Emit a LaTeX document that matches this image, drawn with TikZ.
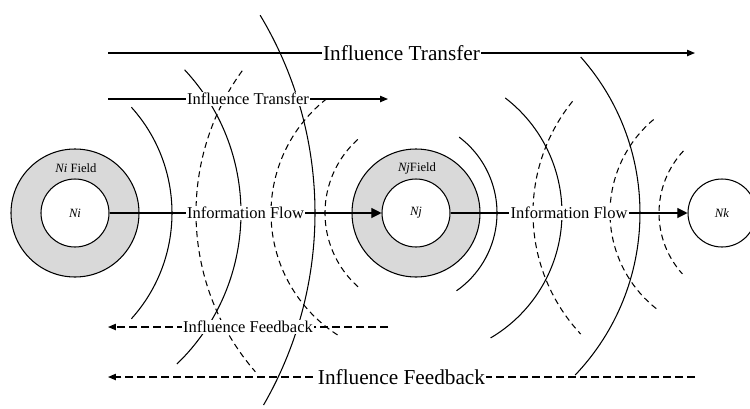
\documentclass[tikz,border=0pt]{standalone}
\usepackage{fontspec}
\setmainfont{Liberation Serif}
\usetikzlibrary{arrows.meta}

\begin{document}
\begin{tikzpicture}[line width=0.6pt]
    \tikzstyle{field}=[draw, circle, fill=gray!30, minimum size=2.56cm, inner sep=0pt];
    \tikzstyle{core}=[draw, circle, fill=white, minimum size=1.36cm, inner sep=0pt,
    font=\fontsize{7.2}{8}\selectfont\itshape];
    \tikzstyle{tag}=[inner sep=0pt, font=\fontsize{7.2}{8}\selectfont];
    \tikzstyle{lbl}=[fill=white, inner sep=0.6pt, font=\fontsize{9.4}{11}\selectfont];
    \tikzstyle{biglbl}=[fill=white, inner sep=0.6pt, font=\fontsize{12.1}{14}\selectfont];
    \tikzstyle{flow}=[-{Triangle[length=5.7pt,width=5.7pt]}];
    \tikzstyle{transfer}=[-{Triangle[length=4.5pt,width=3.6pt]}];
    \tikzstyle{feedback}=[-{Triangle[length=4.5pt,width=3.6pt]}, dash pattern=on 4.5pt off 2.3pt];
    \tikzstyle{wave}=[];
    \tikzstyle{echo}=[dash pattern=on 3.4pt off 2.3pt];

    \useasboundingbox (0,-3.9) rectangle (15,4.26);

    % fields and nodes
    \node [field] (fi) at (1.5,0) {};
    \node [field] (fj) at (8.32,0) {};
    \node [core] (Ni) at (1.5,0) {Ni};
    \node [core] (Nj) at (8.32,0) {Nj};
    \node [core] (Nk) at (14.44,0) {Nk};
    \node [tag] (ti) at (1.52,0.9) {\textit{Ni} Field};
    \node [tag] (tj) at (8.34,0.9) {\textit{Nj}Field};

    % outgoing waves (solid) : centre x / radius / start / end
    \foreach \cx/\rad/\sa/\ea in {0.28/3.16/42/-42, 0.62/4.2/43/-46, -1.38/7.68/31/-30,
        8.04/1.9/53/-55, 8.34/2.9/52.5/-59.5, 8.1/4.7/41.6/-43.6}
        \draw [wave] (\cx,0) ++(\sa:\rad) arc [start angle=\sa, end angle=\ea, radius=\rad];

    % returning waves (dashed)
    \foreach \cx/\rad/\sa/\ea in {8.76/4.84/144/221, 8.32/2.9/128/238, 8.48/1.98/132/230,
        14.21/3.55/141/223, 14.64/2.44/130/232, 15.0/1.82/137/222}
        \draw [echo] (\cx,0) ++(\sa:\rad) arc [start angle=\sa, end angle=\ea, radius=\rad];

    % end points of transfer / feedback lines
    \coordinate (ts1) at (2.16,3.2);
    \coordinate (te1) at (13.9,3.2);
    \coordinate (ts2) at (2.16,2.28);
    \coordinate (te2) at (7.76,2.28);
    \coordinate (fs1) at (7.76,-2.28);
    \coordinate (fe1) at (2.16,-2.28);
    \coordinate (fs2) at (13.9,-3.28);
    \coordinate (fe2) at (2.16,-3.28);

    \draw [transfer] (ts1) -- node [biglbl] (it1) {Influence Transfer} (te1);
    \draw [transfer] (ts2) -- node [lbl] (it2) {Influence Transfer} (te2);
    \draw [flow] (Ni) -- node [lbl] (if1) {Information Flow} (Nj);
    \draw [flow] (Nj) -- node [lbl] (if2) {Information Flow} (Nk);
    \draw [feedback] (fs1) -- node [lbl] (ib1) {Influence Feedback} (fe1);
    \draw [feedback] (fs2) -- node [biglbl] (ib2) {Influence Feedback} (fe2);
\end{tikzpicture}
\end{document}
